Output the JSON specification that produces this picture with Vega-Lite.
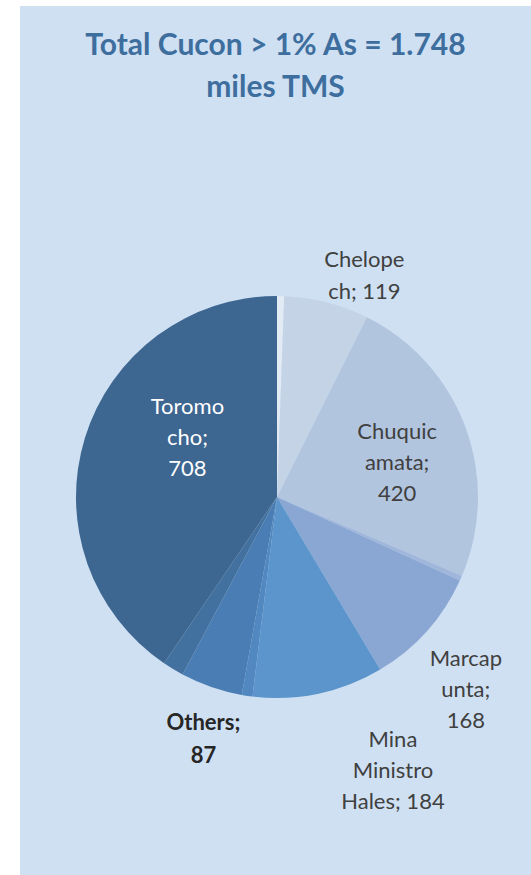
{
  "$schema": "https://vega.github.io/schema/vega-lite/v6.json",
  "width": 511,
  "height": 869,
  "autosize": {"type": "none"},
  "padding": {"left": 20, "top": 6, "right": 0, "bottom": 0},
  "background": "#ffffff",
  "view": {"fill": "#cfe0f3", "stroke": null},
  "title": {
    "text": ["Total Cucon > 1% As = 1.748", "miles TMS"],
    "font": "Lato",
    "fontSize": 30,
    "fontWeight": "bold",
    "color": "#3d6e9e",
    "lineHeight": 42,
    "anchor": "middle",
    "frame": "group",
    "offset": -97
  },
  "data": {
    "values": [
      {"k": 1, "site": "Other A", "value": 10, "label": ""},
      {"k": 2, "site": "Chelopech", "value": 119, "label": "Chelope\nch; 119"},
      {"k": 3, "site": "Chuquicamata", "value": 420, "label": "Chuquic\namata;\n420"},
      {"k": 4, "site": "Other B", "value": 7, "label": ""},
      {"k": 5, "site": "Marcapunta", "value": 168, "label": "Marcap\nunta;\n168"},
      {"k": 6, "site": "Mina Ministro Hales", "value": 184, "label": "Mina\nMinistro\nHales; 184"},
      {"k": 7, "site": "Other C", "value": 15, "label": ""},
      {"k": 8, "site": "Others", "value": 87, "label": "Others;\n87"},
      {"k": 9, "site": "Other D", "value": 30, "label": ""},
      {"k": 10, "site": "Toromocho", "value": 708, "label": "Toromo\ncho;\n708"}
    ]
  },
  "encoding": {
    "theta": {"field": "value", "type": "quantitative", "stack": true},
    "order": {"field": "k", "type": "quantitative"},
    "detail": {"field": "site", "type": "nominal"}
  },
  "layer": [
    {
      "mark": {"type": "arc", "outerRadius": 201, "xOffset": 1.5, "yOffset": 56.5},
      "encoding": {
        "color": {
          "field": "site",
          "type": "nominal",
          "legend": null,
          "scale": {
            "domain": ["Other A", "Chelopech", "Chuquicamata", "Other B", "Marcapunta", "Mina Ministro Hales", "Other C", "Others", "Other D", "Toromocho"],
            "range": ["#e2eaf4", "#c4d3e6", "#b2c5df", "#a0b6da", "#8aa7d3", "#5b95cb", "#5288c0", "#4a7db4", "#43719f", "#3d6691"]
          }
        }
      }
    },
    {
      "mark": {"type": "text", "radius": 228, "xOffset": 1.5, "yOffset": 56.5, "dx": 31, "dy": -16, "font": "Lato", "fontSize": 22, "lineHeight": 32, "lineBreak": "\n", "color": "#404040", "baseline": "middle"},
      "encoding": {"text": {"condition": {"test": "datum.site === 'Chelopech'", "field": "label"}, "value": ""}}
    },
    {
      "mark": {"type": "text", "radius": 128, "xOffset": 1.5, "yOffset": 56.5, "dy": -21, "font": "Lato", "fontSize": 22, "lineHeight": 31, "lineBreak": "\n", "color": "#404040", "baseline": "middle"},
      "encoding": {"text": {"condition": {"test": "datum.site === 'Chuquicamata'", "field": "label"}, "value": ""}}
    },
    {
      "mark": {"type": "text", "radius": 260, "xOffset": 1.5, "yOffset": 56.5, "dx": -5, "dy": -11, "font": "Lato", "fontSize": 22, "lineHeight": 31, "lineBreak": "\n", "color": "#404040", "baseline": "middle"},
      "encoding": {"text": {"condition": {"test": "datum.site === 'Marcapunta'", "field": "label"}, "value": ""}}
    },
    {
      "mark": {"type": "text", "radius": 280, "xOffset": 1.5, "yOffset": 56.5, "dx": 58, "dy": -31, "font": "Lato", "fontSize": 22, "lineHeight": 31, "lineBreak": "\n", "color": "#404040", "baseline": "middle"},
      "encoding": {"text": {"condition": {"test": "datum.site === 'Mina Ministro Hales'", "field": "label"}, "value": ""}}
    },
    {
      "mark": {"type": "text", "radius": 256, "xOffset": 1.5, "yOffset": 56.5, "dx": 10, "dy": -16, "font": "Lato", "fontSize": 22, "fontWeight": "bold", "lineHeight": 33, "lineBreak": "\n", "color": "#262626", "baseline": "middle"},
      "encoding": {"text": {"condition": {"test": "datum.site === 'Others'", "field": "label"}, "value": ""}}
    },
    {
      "mark": {"type": "text", "radius": 100, "xOffset": 1.5, "yOffset": 56.5, "dx": 6, "dy": -61, "font": "Lato", "fontSize": 22, "lineHeight": 31, "lineBreak": "\n", "color": "#ffffff", "baseline": "middle"},
      "encoding": {"text": {"condition": {"test": "datum.site === 'Toromocho'", "field": "label"}, "value": ""}}
    }
  ]
}
